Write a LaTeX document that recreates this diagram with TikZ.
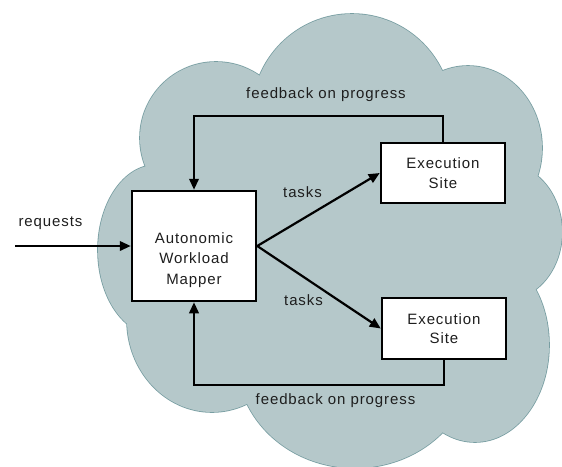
\documentclass[tikz,border=0pt]{standalone}
\usepackage{fontspec}
\setmainfont{Liberation Sans}[LetterSpace=6]
\usetikzlibrary{arrows.meta}
\definecolor{cloudfill}{RGB}{181,200,202}
\definecolor{cloudline}{RGB}{120,158,162}
\definecolor{txt}{RGB}{30,30,30}
\def\cloudpath{(216,138) circle[radius=76]
 (352,114) circle[radius=100]
 (468,148) ellipse[x radius=74,y radius=82]
 (505,232) ellipse[x radius=57,y radius=68]
 (475,345) ellipse[x radius=74,y radius=97]
 (355,360) ellipse[x radius=118,y radius=108]
 (212,320) ellipse[x radius=85,y radius=92]
 (156,250) ellipse[x radius=58,y radius=85]}
\begin{document}
\begin{tikzpicture}[x=1pt,y=-1pt,
  box/.style={draw=black, line width=2.5pt, fill=white, minimum width=124pt,
    minimum height=60pt, inner sep=0pt, align=center,
    font=\fontsize{15}{19.5}\selectfont, text=txt},
  lbl/.style={font=\fontsize{15}{18}\selectfont, text=txt, inner sep=0pt},
  conn/.style={line width=2.2pt, draw=black},
  arr/.style={conn, -{Triangle[length=11pt,width=9.5pt]}}]
\useasboundingbox (0,0) rectangle (562,466);
% cloud
\draw[cloudline, line width=1.6pt] \cloudpath;
\fill[cloudfill] \cloudpath;
\fill[cloudfill] (148,178) -- (262,76) -- (442,74) -- (530,178) -- (535,283)
  -- (447,432) -- (245,400) -- (130,322) -- cycle;
% boxes
\node[box] (exec1) at (443,173) {Execution\\Site};
\node[box, minimum height=61pt] (exec2) at (444,328.5) {Execution\\Site};
\node[box, minimum height=110pt] (mapper) at (194,246) {};
\node[lbl, align=center, anchor=north, font=\fontsize{15}{20.8}\selectfont]
  (mappertext) at (194,232) {Autonomic\\Workload\\Mapper};
% labels
\node[lbl, anchor=base] (fbtoplbl) at (326,98.3) {feedback on progress};
\node[lbl, anchor=base] (fbbotlbl) at (335.5,404) {feedback on progress};
\node[lbl, anchor=base] (tasks1) at (302.5,197) {tasks};
\node[lbl, anchor=base] (tasks2) at (303.5,305) {tasks};
\node[lbl, anchor=base] (reqlbl) at (50.5,226) {requests};
% connectors
\coordinate (reqstart) at (15,246);
\draw[arr] (reqstart) -- (mapper.west);
\draw[arr] (mapper.east) -- (exec1.west);
\draw[arr] (mapper.east) -- (exec2.west);
\coordinate (fbt) at (194,116);
\draw[arr] (exec1.north) |- (fbt) -- (mapper.north);
\coordinate (fbb) at (194,385);
\draw[arr] (exec2.south) |- (fbb) -- (mapper.south);
\end{tikzpicture}
\end{document}
